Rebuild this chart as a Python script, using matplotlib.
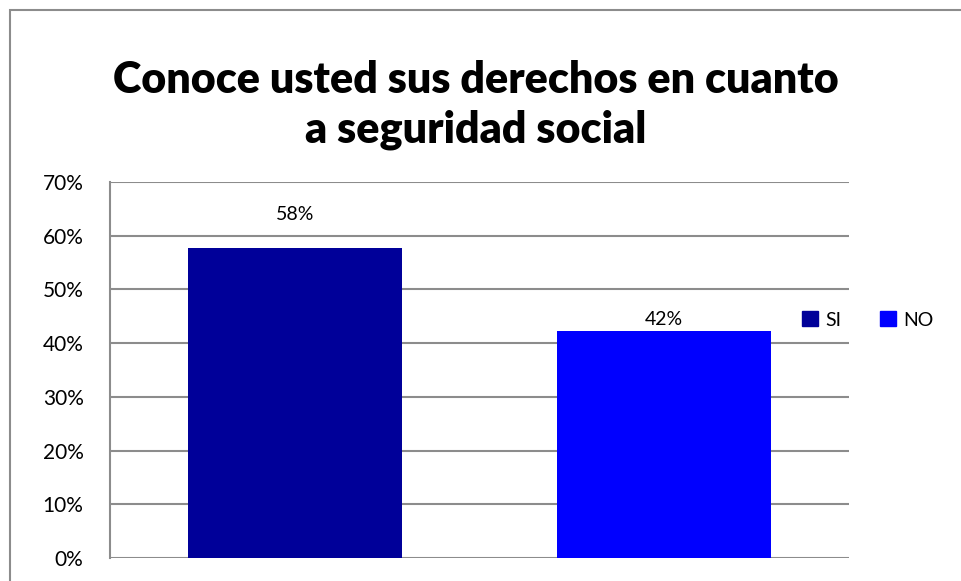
import matplotlib
matplotlib.use("Agg")
import matplotlib.pyplot as plt
from matplotlib.patches import Patch, Rectangle
from matplotlib.ticker import PercentFormatter

# Chart data
categories = ["SI", "NO"]
values = [0.577, 0.423]
labels = ["58%", "42%"]
colors = ["#000099", "#0000FF"]
label_offsets = [0.063, 0.021]  # Excel placed the two labels at different heights
yticks = [0.0, 0.1, 0.2, 0.3, 0.4, 0.5, 0.6, 0.7]
title = "Conoce usted sus derechos en cuanto\na seguridad social"

plt.rcParams['font.family'] = ['Lato', 'DejaVu Sans']
grid_gray = "#8c8c8c"

fig = plt.figure(figsize=(9.61, 5.81), dpi=100)

# Outer chart frame (right and bottom edges fall outside the image)
fig.add_artist(Rectangle((10 / 961, -0.2), 1.5, 1.2 - 10 / 581,
                         transform=fig.transFigure, fill=False,
                         edgecolor=grid_gray, linewidth=1.5, clip_on=False))

ax = fig.add_axes([110 / 961, 23 / 581, 739 / 961, 376 / 581])

x = range(len(categories))
ax.bar(x, values, width=0.58, color=colors, zorder=3)

for i, v in enumerate(values):
    ax.text(i, v + label_offsets[i], labels[i], ha="center", va="center",
            fontsize=14, color="black")

ax.set_xlim(-0.5, 1.5)
ax.set_ylim(0, 0.7)
ax.set_yticks(yticks)
ax.yaxis.set_major_formatter(PercentFormatter(1.0, decimals=0))
ax.set_xticks([])
ax.tick_params(axis="y", length=0, pad=19, labelsize=15)
ax.grid(axis="y", color=grid_gray, linewidth=1.5, zorder=0)
for side in ["top", "right", "bottom"]:
    ax.spines[side].set_visible(False)
ax.spines["left"].set_color(grid_gray)
ax.spines["left"].set_linewidth(1.5)

# Title
fig.text(476 / 961, 1 - 105 / 581, title, ha="center", va="center",
         fontsize=31, fontweight="heavy", linespacing=1.3)

# Legend
handles = [Patch(facecolor=c, edgecolor=c) for c in colors]
fig.legend(handles, categories, loc="center", ncol=2,
           bbox_to_anchor=(868 / 961, 1 - 320 / 581), frameon=False,
           fontsize=14, handlelength=0.8, handleheight=0.8,
           handletextpad=0.4, columnspacing=2.0)

fig.savefig("out.png", dpi=100)
